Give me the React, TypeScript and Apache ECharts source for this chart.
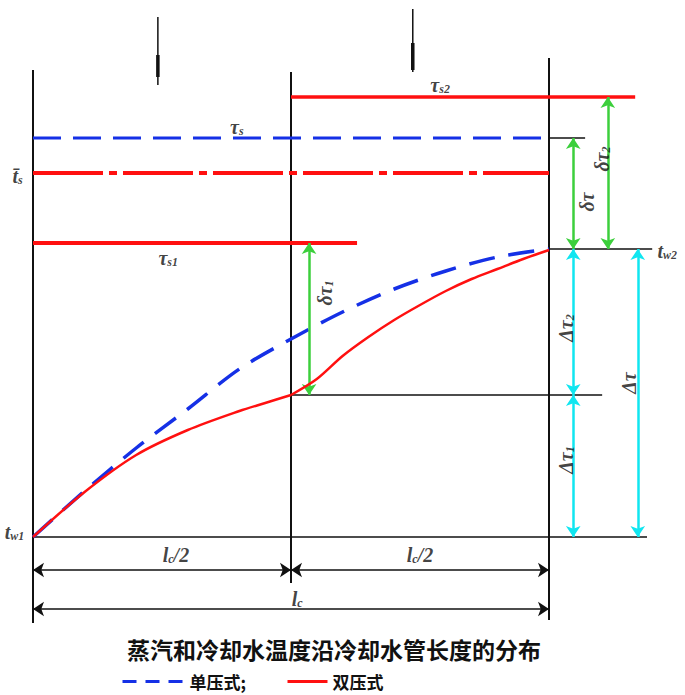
import React, { useEffect, useRef } from 'react';
import * as echarts from 'echarts';

// ---- data (x: fraction of tube length lc, y: temperature, arbitrary units above tw1) ----
const BLUE_X = [0, 0.1, 0.2, 0.3, 0.4, 0.5, 0.6, 0.7, 0.8, 0.9, 1.0];
const BLUE_Y = [0, 46, 89, 128, 168, 198, 225, 248, 266, 280, 288];
const RED_LOW_X = [0, 0.1, 0.2, 0.3, 0.4, 0.45, 0.5];
const RED_LOW_Y = [0, 45, 82, 107, 126, 134, 142];
const RED_HIGH_X = [0.5, 0.55, 0.6, 0.65, 0.7, 0.75, 0.8, 0.85, 0.9, 0.95, 1.0];
const RED_HIGH_Y = [142, 158, 181, 200, 217, 232, 246, 258, 268, 278, 287];

const TW1 = 0;
const T_MID = 142;
const TW2 = 288;
const TS1 = 294;
const TS_BAR = 364;
const TS = 399;
const TS2 = 440;

const L_HALF = 0.5;
const L_C = 1.0;

const TITLE = '蒸汽和冷却水温度沿冷却水管长度的分布';
const LEGEND_NAMES = ['单压式', '双压式'];

// ---- layout ----
const X_MIN = -0.06;
const X_MAX = 1.26;
const Y_MIN = -110;
const Y_MAX = 535;
const UNIT_PX = 516;
const ORIGIN_X = 33;
const ORIGIN_Y = 537;

const RED = '#ff1010';
const BLUE = '#1530e6';
const GREEN = '#3ccf3c';
const CYAN = '#10e6f0';
const BLACK = '#111111';

const zip = (xs: number[], ys: number[]) => xs.map((x, i) => [x, ys[i]]);

function seg(points: number[][], color: string, width: number, type: any = 'solid', name?: string, extra: any = {}) {
  return {
    type: 'line',
    name,
    data: points,
    symbol: 'none',
    clip: false,
    silent: true,
    itemStyle: { color },
    lineStyle: { color, width, type, cap: 'butt' },
    ...extra,
  };
}

const serifB = { fontFamily: 'Liberation Serif', fontStyle: 'italic', fontWeight: 'bold', color: BLACK };
const rich = {
  b: { ...serifB, fontSize: 20, verticalAlign: 'bottom', lineHeight: 22 },
  s: { ...serifB, fontSize: 12, verticalAlign: 'bottom' },
};

const LABELS: { x: number; y: number; t: string; r?: number }[] = [
  { x: 0.789, y: 453, t: '{b|τ}{s|s2}' },
  { x: 0.395, y: 411, t: '{b|τ}{s|s}' },
  { x: -0.03, y: 362, t: '{b|t̄}{s|s}' },
  { x: 0.262, y: 280, t: '{b|τ}{s|s1}' },
  { x: 1.229, y: 287, t: '{b|t}{s|w2}' },
  { x: -0.036, y: 6, t: '{b|t}{s|w1}' },
  { x: 0.563, y: 244, t: '{b|δτ}{s|1}', r: 90 },
  { x: 1.071, y: 335, t: '{b|δτ}', r: 90 },
  { x: 1.1, y: 378, t: '{b|δτ}{s|2}', r: 90 },
  { x: 1.031, y: 209, t: '{b|Δτ}{s|2}', r: 90 },
  { x: 1.031, y: 77, t: '{b|Δτ}{s|1}', r: 90 },
  { x: 1.153, y: 154, t: '{b|Δτ}', r: 90 },
  { x: 0.277, y: -17, t: '{b|l}{s|c}{b|/2}' },
  { x: 0.75, y: -17, t: '{b|l}{s|c}{b|/2}' },
  { x: 0.512, y: -61, t: '{b|l}{s|c}' },
];

function arrow(x1: number, y1: number, x2: number, y2: number, color: string, width: number) {
  return [
    { coord: [x1, y1], lineStyle: { color, width, type: 'solid' } },
    { coord: [x2, y2] },
  ];
}

export default function App() {
  const ref = useRef<HTMLDivElement>(null);
  useEffect(() => {
    if (!ref.current) return;
    const chart = echarts.init(ref.current, undefined, { renderer: 'svg' });

    const gridLeft = ORIGIN_X + X_MIN * UNIT_PX;
    const gridWidth = (X_MAX - X_MIN) * UNIT_PX;
    const gridTop = ORIGIN_Y - Y_MAX;
    const gridHeight = Y_MAX - Y_MIN;

    const series: any[] = [
      // verticals
      seg([[0, -86], [0, 467]], BLACK, 2),
      seg([[L_HALF, -46], [L_HALF, 465]], BLACK, 2),
      seg([[L_C, -83], [L_C, 479]], BLACK, 2),
      // flow markers at top
      seg([[0.242, 452], [0.242, 520]], BLACK, 1.5),
      seg([[0.242, 460], [0.242, 482]], BLACK, 3.5),
      seg([[0.736, 465], [0.736, 528]], BLACK, 1.5),
      seg([[0.736, 467], [0.736, 494]], BLACK, 3.5),
      // steam levels
      seg([[L_HALF, TS2], [1.167, TS2]], RED, 3.5),
      seg([[0, TS], [L_C, TS]], BLUE, 3, [28, 12]),
      seg([[L_C, TS], [1.07, TS]], BLACK, 1.5),
      seg([[0, TS_BAR], [L_C, TS_BAR]], RED, 4, [70, 6, 8, 6]),
      seg([[0, TS1], [0.628, TS1]], RED, 4),
      // water levels
      seg([[L_C, TW2], [1.2, TW2]], BLACK, 1.5),
      seg([[L_HALF, T_MID], [1.103, T_MID]], BLACK, 1.5),
      seg([[0, TW1], [1.19, TW1]], BLACK, 1.5, 'solid', undefined, {
        markLine: {
          silent: true,
          animation: false,
          symbol: ['arrow', 'arrow'],
          symbolSize: 11,
          label: { show: false },
          data: [
            arrow(0.535, TS1, 0.535, T_MID, GREEN, 2.5),
            arrow(1.047, TS, 1.047, TW2, GREEN, 2.5),
            arrow(1.114, TS2, 1.114, TW2, GREEN, 2.5),
            arrow(1.047, TW2, 1.047, T_MID, CYAN, 2.5),
            arrow(1.047, T_MID, 1.047, TW1, CYAN, 2.5),
            arrow(1.172, TW2, 1.172, TW1, CYAN, 2.5),
            arrow(0, -33, L_HALF, -33, BLACK, 1.5),
            arrow(L_HALF, -33, L_C, -33, BLACK, 1.5),
            arrow(0, -72, L_C, -72, BLACK, 1.5),
          ],
        },
      }),
      // water temperature curves
      seg(zip(BLUE_X, BLUE_Y), BLUE, 3.5, [26, 14], LEGEND_NAMES[0], { smooth: 0.3, z: 4 }),
      seg(zip(RED_LOW_X, RED_LOW_Y), RED, 2.5, 'solid', LEGEND_NAMES[1], { smooth: 0.3, z: 5 }),
      seg(zip(RED_HIGH_X, RED_HIGH_Y), RED, 2.5, 'solid', LEGEND_NAMES[1], { smooth: 0.3, z: 5 }),
      // labels
      {
        type: 'scatter',
        clip: false,
        silent: true,
        symbolSize: 1,
        itemStyle: { color: 'rgba(0,0,0,0)' },
        z: 10,
        data: LABELS.map((l) => ({
          value: [l.x, l.y],
          label: {
            show: true,
            position: 'inside',
            formatter: l.t,
            rotate: l.r || 0,
            rich,
          },
        })),
      },
    ];

    const legendText = { fontSize: 17, fontWeight: 'bold', color: BLACK, fontFamily: 'Noto Sans CJK SC' };

    chart.setOption({
      animation: false,
      backgroundColor: '#ffffff',
      grid: { left: gridLeft, top: gridTop, width: gridWidth, height: gridHeight },
      xAxis: { type: 'value', min: X_MIN, max: X_MAX, show: false },
      yAxis: { type: 'value', min: Y_MIN, max: Y_MAX, show: false },
      title: {
        text: TITLE,
        left: 122,
        top: 632,
        textStyle: { fontSize: 23, fontWeight: 'bold', color: BLACK, fontFamily: 'Noto Sans CJK SC' },
      },
      legend: [
        {
          data: [LEGEND_NAMES[0]],
          left: 116,
          top: 668,
          itemWidth: 62,
          itemHeight: 14,
          formatter: (n: string) => n + ';',
          lineStyle: { type: [14, 9], width: 3 },
          itemStyle: { opacity: 0 },
          textStyle: legendText,
          selectedMode: false,
        },
        {
          data: [LEGEND_NAMES[1]],
          left: 281,
          top: 668,
          itemWidth: 40,
          itemHeight: 14,
          lineStyle: { width: 3 },
          itemStyle: { opacity: 0 },
          textStyle: legendText,
          selectedMode: false,
        },
      ],
      series,
    });
    return () => chart.dispose();
  }, []);
  return (
    <div
      ref={ref}
      style={{ position: 'absolute', left: 0, top: 0, width: 685, height: 695, background: '#fff' }}
    />
  );
}
